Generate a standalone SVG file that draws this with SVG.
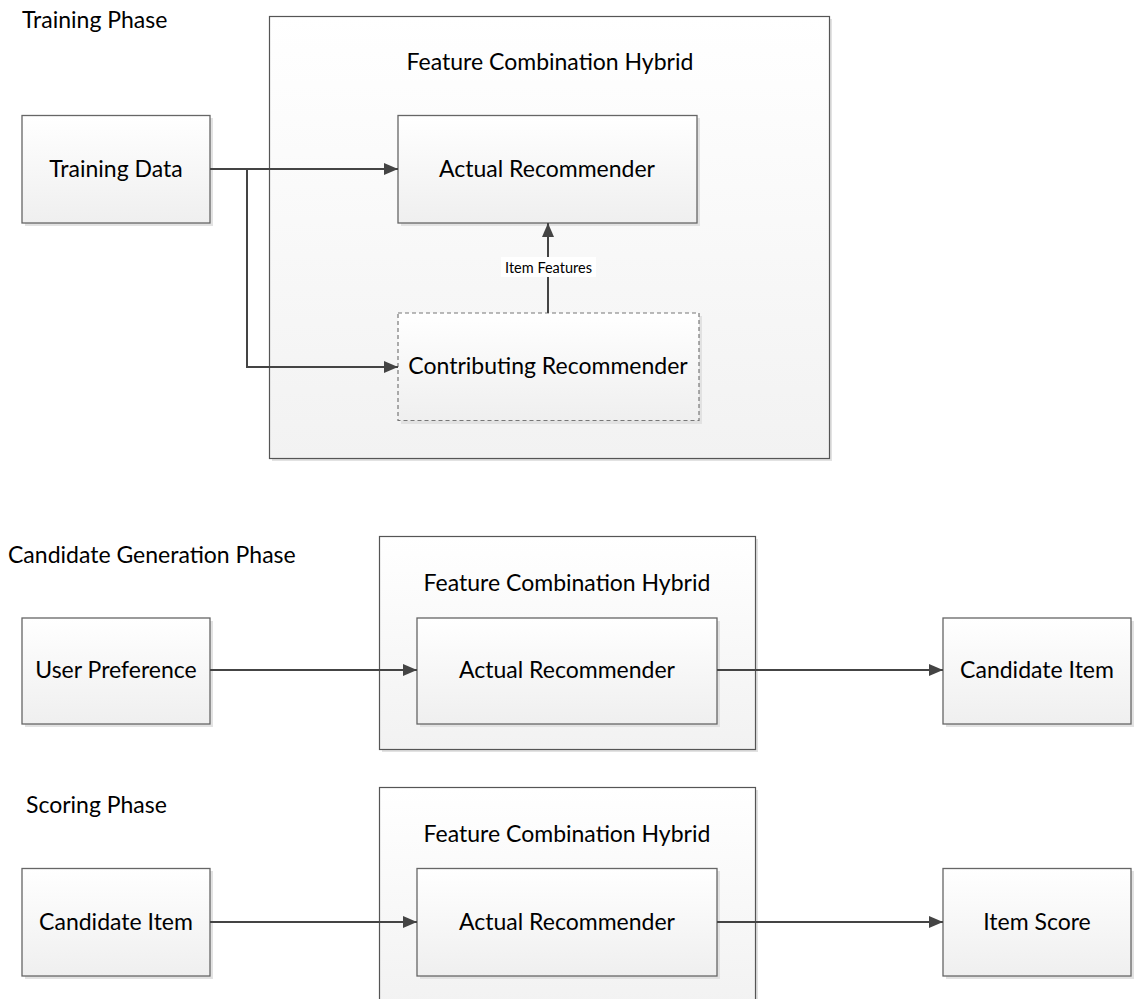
<svg xmlns="http://www.w3.org/2000/svg" width="1142" height="999" viewBox="0 0 1142 999">
<style>
text{font-family:Lato,"Open Sans","Liberation Sans",sans-serif;fill:#000}
.t{font-size:23px;text-anchor:middle}
.ph{font-size:23px}
.box{fill:url(#g);stroke:#666;stroke-width:1.3}
.outer{fill:url(#g2);stroke:#555;stroke-width:1.2}
.sh{fill:#e2e2e2}
.dash{fill:url(#g);stroke:#777;stroke-width:1.2;stroke-dasharray:4 3}
.c{fill:none;stroke:#444;stroke-width:2}
</style>
<defs>
<linearGradient id="g" x1="0" y1="0" x2="0" y2="1"><stop offset="0" stop-color="#ffffff"/><stop offset="1" stop-color="#efefef"/></linearGradient>
<linearGradient id="g2" x1="0" y1="0" x2="0" y2="1"><stop offset="0" stop-color="#ffffff"/><stop offset="1" stop-color="#f2f2f2"/></linearGradient>
<marker id="a" viewBox="0 0 14 12" refX="14" refY="6" markerWidth="14" markerHeight="12" markerUnits="userSpaceOnUse" orient="auto"><path d="M0,0 L14,6 L0,12 Z" fill="#444"/></marker>
</defs>
<rect width="1142" height="999" fill="#fff"/>

<text class="ph" x="22" y="28">Training Phase</text>
<text class="ph" x="8" y="563">Candidate Generation Phase</text>
<text class="ph" x="26" y="813">Scoring Phase</text>

<g id="fch1">
<rect class="sh" x="272" y="19" width="560" height="442"/>
<rect class="outer" x="269.5" y="16.5" width="560" height="442"/>
<text class="t" x="550" y="70">Feature Combination Hybrid</text>
</g>
<g id="fch2">
<rect class="sh" x="382" y="539" width="376" height="213"/>
<rect class="outer" x="379.5" y="536.5" width="376" height="213"/>
<text class="t" x="567" y="591">Feature Combination Hybrid</text>
</g>
<g id="fch3">
<rect class="sh" x="382" y="790" width="376" height="220"/>
<rect class="outer" x="379.5" y="787.5" width="376" height="220"/>
<text class="t" x="567" y="842">Feature Combination Hybrid</text>
</g>

<g id="training-data">
<rect class="sh" x="25" y="118" width="188" height="108"/>
<rect class="box" x="22" y="115.5" width="188" height="107.5"/>
<text class="t" x="116" y="177">Training Data</text>
</g>
<g id="actual-rec-1">
<rect class="sh" x="401" y="118" width="299" height="108"/>
<rect class="box" x="398" y="115.5" width="299" height="107.5"/>
<text class="t" x="547" y="177">Actual Recommender</text>
</g>
<g id="contributing-rec">
<rect class="sh" x="401" y="316" width="301" height="108"/>
<rect class="dash" x="398" y="313" width="301" height="107.5"/>
<text class="t" x="548" y="374">Contributing Recommender</text>
</g>

<g id="user-pref">
<rect class="sh" x="25" y="621" width="188" height="106"/>
<rect class="box" x="22" y="618" width="188" height="106"/>
<text class="t" x="116" y="678">User Preference</text>
</g>
<g id="actual-rec-2">
<rect class="sh" x="420" y="621" width="300" height="106"/>
<rect class="box" x="417" y="618" width="300" height="106"/>
<text class="t" x="567" y="678">Actual Recommender</text>
</g>
<g id="candidate-item-1">
<rect class="sh" x="946" y="621" width="188" height="106"/>
<rect class="box" x="943" y="618" width="188" height="106"/>
<text class="t" x="1037" y="678">Candidate Item</text>
</g>

<g id="candidate-item-2">
<rect class="sh" x="25" y="871" width="188" height="108"/>
<rect class="box" x="22" y="868.5" width="188" height="107.5"/>
<text class="t" x="116" y="930">Candidate Item</text>
</g>
<g id="actual-rec-3">
<rect class="sh" x="420" y="871" width="300" height="108"/>
<rect class="box" x="417" y="868.5" width="300" height="107.5"/>
<text class="t" x="567" y="930">Actual Recommender</text>
</g>
<g id="item-score">
<rect class="sh" x="946" y="871" width="188" height="108"/>
<rect class="box" x="943" y="868.5" width="188" height="107.5"/>
<text class="t" x="1037" y="930">Item Score</text>
</g>

<g id="connectors">
<path class="c" d="M210,169 H398" marker-end="url(#a)"/>
<path class="c" d="M210,169 H247 V367 H398" marker-end="url(#a)"/>
<path class="c" d="M548,313 V223" marker-end="url(#a)"/>
<rect x="501" y="257" width="95" height="20" fill="#fff"/>
<text x="548.5" y="273" style="font-size:14.5px;text-anchor:middle">Item Features</text>
<path class="c" d="M210,670 H417" marker-end="url(#a)"/>
<path class="c" d="M717,670 H943" marker-end="url(#a)"/>
<path class="c" d="M210,922 H417" marker-end="url(#a)"/>
<path class="c" d="M717,922 H943" marker-end="url(#a)"/>
</g>
</svg>
